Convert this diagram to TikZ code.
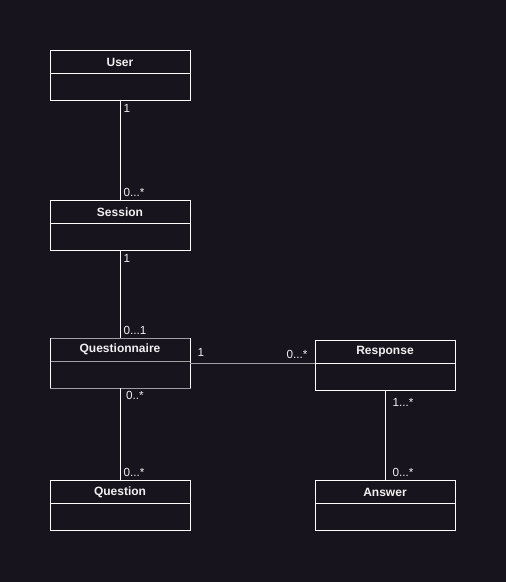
\documentclass[tikz,border=0pt]{standalone}
\usepackage{fontspec}
\setmainfont{Liberation Sans}
\usetikzlibrary{positioning}

\definecolor{bgdark}{RGB}{24,20,29}
\definecolor{linegray}{RGB}{160,160,160}
\definecolor{textwhite}{RGB}{240,240,240}

\tikzset{every picture/.style={line width=0.75pt}}
\tikzset{
  classhead/.style={draw=white, minimum width=105pt, minimum height=17.25pt, inner sep=0pt, outer sep=0pt,
    text=textwhite, font=\fontsize{9}{10}\selectfont\bfseries},
  classbody/.style={draw=white, minimum width=105pt, minimum height=20.25pt, inner sep=0pt, outer sep=0pt},
  assoc/.style={draw=white},
  mult/.style={text=textwhite, inner sep=2.25pt, font=\fontsize{8.8}{10}\selectfont}
}

\begin{document}
\begin{tikzpicture}[x=0.75pt,y=0.75pt,yscale=-1,xscale=1]
%background
\fill [bgdark] (0,0) rectangle (506,582);

%Shape: Class boxes
\node [classhead] (userh) at (120,62) {User};
\node [classbody, below=0pt of userh] (userb) {};
\node [classhead] (sessionh) at (120,212) {Session};
\node [classbody, below=0pt of sessionh] (sessionb) {};
\node [classhead, draw=linegray] (questh) at (120,349.5) {Questionnaire};
\node [classbody, draw=linegray, below=0pt of questh] (questb) {};
\node [classhead] (resph) at (385,352) {Response};
\node [classbody, below=0pt of resph] (respb) {};
\node [classhead] (questionh) at (120,492) {Question};
\node [classbody, below=0pt of questionh] (questionb) {};
\node [classhead] (answerh) at (385,492) {Answer};
\node [classbody, below=0pt of answerh] (answerb) {};
%white sides of Questionnaire
\draw [white] (questh.north west) -- (questb.south west) ;
\draw [white] (questh.north east) -- (questb.south east) ;

%Straight Lines
\draw [assoc] (userb.south) -- (sessionh.north)
  node [mult, pos=0, anchor=north west] {1}
  node [mult, pos=1, anchor=south west] {0...*} ;
%Straight Lines
\draw [assoc] (sessionb.south) -- (questh.north)
  node [mult, pos=0, anchor=north west] {1}
  node [mult, pos=1, anchor=south west] {0...1} ;
%Straight Lines
\draw [assoc] (questb.south) -- (questionh.north)
  node [mult, pos=0, anchor=north west, xshift=2] {0..*}
  node [mult, pos=1, anchor=south west] {0...*} ;
%Straight Lines
\draw [assoc] (respb.south) -- (answerh.north)
  node [mult, pos=0, anchor=north west, xshift=3, yshift=-3] {1...*}
  node [mult, pos=1, anchor=south west, xshift=3] {0...*} ;
%Straight Lines
\draw [linegray] (resph.south west -| questh.east) -- (resph.south west)
  node [mult, pos=0, anchor=south west, xshift=3, yshift=3] {1}
  node [mult, pos=1, anchor=south east, xshift=-3, yshift=1] {0...*} ;

\end{tikzpicture}
\end{document}
